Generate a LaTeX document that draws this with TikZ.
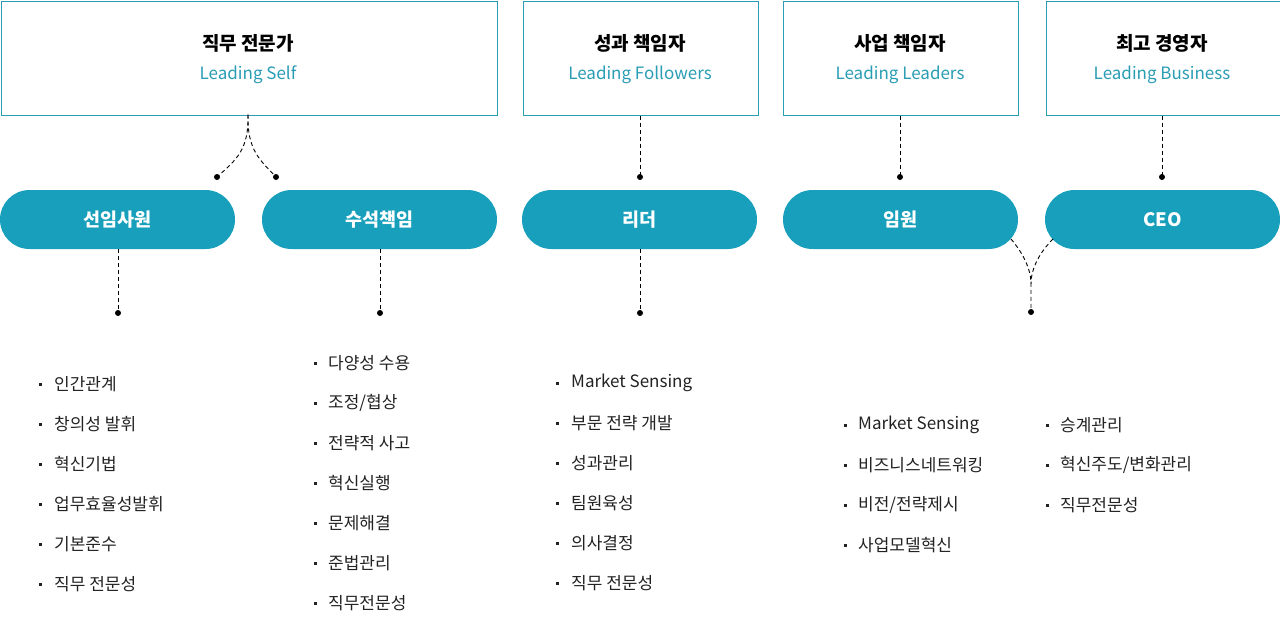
\documentclass[tikz,border=0pt]{standalone}
\usepackage{fontspec}
\setmainfont{Noto Sans CJK KR}
\definecolor{teal1}{HTML}{179FBB}
\definecolor{tealline}{HTML}{2A9DB5}
\definecolor{txt}{HTML}{222222}
\begin{document}
\begin{tikzpicture}[x=1pt,y=-1pt,
  topbox/.style={draw=tealline,line width=1pt,fill=white,minimum height=114pt,inner sep=0pt},
  pill/.style={fill=teal1,rounded corners=29.5pt,minimum height=59pt,inner sep=0pt,text=white,font=\fontsize{18.5}{20}\selectfont\bfseries},
  ttl/.style={font=\fontsize{19}{20}\selectfont\bfseries,text=black,inner sep=0pt},
  sub/.style={font=\fontsize{17}{20}\selectfont,text=tealline,inner sep=0pt},
  item/.style={font=\fontsize{17}{20}\selectfont,text=txt,anchor=west,inner sep=0pt},
  bul/.style={fill=txt,minimum size=3pt,inner sep=0pt},
  conn/.style={draw=black,line width=0.9pt,dash pattern=on 4pt off 3pt},
  dot/.style={fill=black,circle,minimum size=6pt,inner sep=0pt}]
\useasboundingbox (0,0) rectangle (1280,641);
% top boxes
\node[topbox,minimum width=496pt,anchor=north west] (b1) at (0.5,0.5) {};
\node[topbox,minimum width=235pt,anchor=north west] (b2) at (522.5,0.5) {};
\node[topbox,minimum width=235pt,anchor=north west] (b3) at (782.5,0.5) {};
\node[topbox,minimum width=234pt,anchor=north west] (b4) at (1045.5,0.5) {};
\node[ttl] (t1) at (248,43) {직무 전문가};
\node[sub] (s1) at (248,75) {Leading Self};
\node[ttl] (t2) at (640,43) {성과 책임자};
\node[sub] (s2) at (640,75) {Leading Followers};
\node[ttl] (t3) at (900,43) {사업 책임자};
\node[sub] (s3) at (900,75) {Leading Leaders};
\node[ttl] (t4) at (1162,43) {최고 경영자};
\node[sub] (s4) at (1162,75) {Leading Business};
% pills
\node[pill,minimum width=235pt] (p1) at (117.5,219.5) {선임사원};
\node[pill,minimum width=235pt] (p2) at (379.5,219.5) {수석책임};
\node[pill,minimum width=235pt] (p3) at (639.5,219.5) {리더};
\node[pill,minimum width=235pt] (p4) at (900.5,219.5) {임원};
\node[pill,minimum width=235pt] (p5) at (1162.5,219.5) {CEO};
% dots top
\node[dot] (d1a) at (217,177) {};
\node[dot] (d1b) at (276,177) {};
\node[dot] (d2) at (640,177) {};
\node[dot] (d3) at (900,177) {};
\node[dot] (d4) at (1162,177) {};
\coordinate (b1s) at (248,114.5);
\draw[conn] (b1s) .. controls (249,150) and (236,160) .. (d1a.center);
\draw[conn] (b1s) .. controls (247,150) and (260,160) .. (d1b.center);
\draw[conn] (b2.south -| d2) -- (d2.center);
\draw[conn] (b3.south -| d3) -- (d3.center);
\draw[conn] (b4.south -| d4) -- (d4.center);
% dots bottom
\node[dot] (e1) at (118,313) {};
\node[dot] (e2) at (380,313) {};
\node[dot] (e3) at (640,313) {};
\node[dot] (e4) at (1031,312) {};
\draw[conn] (p1.south -| e1) -- (e1.center);
\draw[conn] (p2.south -| e2) -- (e2.center);
\draw[conn] (p3.south -| e3) -- (e3.center);
\coordinate (p4c) at (1011,239);
\coordinate (p5c) at (1053,239);
\coordinate (m45) at (1031,284);
\draw[conn] (p4c) .. controls (1022,252) and (1031,268) .. (m45) -- (e4.center);
\draw[conn] (p5c) .. controls (1040,252) and (1031,268) .. (m45);
% lists
\foreach \t [count=\i] in {인간관계,창의성 발휘,혁신기법,업무효율성발휘,기본준수,직무 전문성}{
  \node[bul] (l1b\i) at (40,344+40*\i) {};
  \node[item] (l1t\i) at (54,344+40*\i) {\t};
}
\foreach \t [count=\i] in {다양성 수용,조정/협상,전략적 사고,혁신실행,문제해결,준법관리,직무전문성}{
  \node[bul] (l2b\i) at (315,323+40*\i) {};
  \node[item] (l2t\i) at (328,323+40*\i) {\t};
}
\foreach \t [count=\i] in {Market Sensing,부문 전략 개발,성과관리,팀원육성,의사결정,직무 전문성}{
  \node[bul] (l3b\i) at (557,343+40*\i) {};
  \node[item] (l3t\i) at (571,343+40*\i) {\t};
}
\foreach \t [count=\i] in {Market Sensing,비즈니스네트워킹,비전/전략제시,사업모델혁신}{
  \node[bul] (l4b\i) at (845,385+40*\i) {};
  \node[item] (l4t\i) at (858,385+40*\i) {\t};
}
\foreach \t [count=\i] in {승계관리,혁신주도/변화관리,직무전문성}{
  \node[bul] (l5b\i) at (1047,385+40*\i) {};
  \node[item] (l5t\i) at (1060,385+40*\i) {\t};
}
\end{tikzpicture}
\end{document}
